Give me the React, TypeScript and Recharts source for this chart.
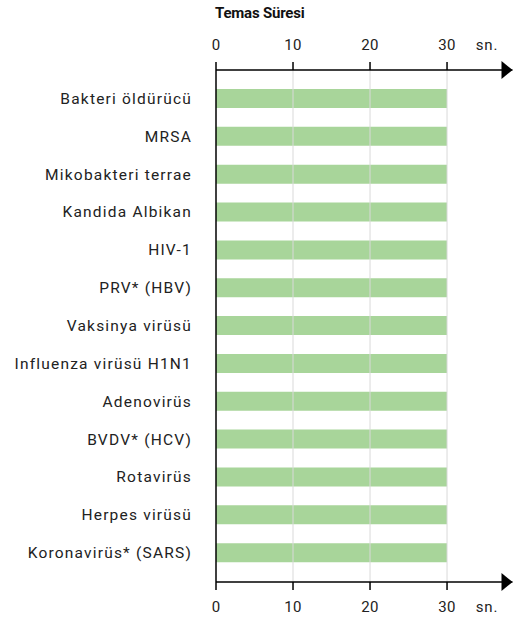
import React from 'react';
import { BarChart, Bar, XAxis, YAxis, ReferenceLine } from 'recharts';

const categories = [
  'Bakteri öldürücü',
  'MRSA',
  'Mikobakteri terrae',
  'Kandida Albikan',
  'HIV-1',
  'PRV* (HBV)',
  'Vaksinya virüsü',
  'Influenza virüsü H1N1',
  'Adenovirüs',
  'BVDV* (HCV)',
  'Rotavirüs',
  'Herpes virüsü',
  'Koronavirüs* (SARS)',
];
const contactSeconds = [30, 30, 30, 30, 30, 30, 30, 30, 30, 30, 30, 30, 30];
const xTicks = [0, 10, 20, 30];
const gridValues = [10, 20, 30];
const axisMax = 38.5;
const unitLabel = 'sn.';
const title = 'Temas Süresi';

const data = categories.map((name, i) => ({ name, value: contactSeconds[i] }));

const FONT = 'Roboto, "Liberation Sans", sans-serif';
const TEXT = '#222';

const makeXTick = (top: boolean) => (props: any) => {
  const { x, y, payload } = props;
  const v = payload.value;
  const dir = top ? -1 : 1;
  if (v === axisMax) {
    return (
      <path d={`M${x - 11},${y - 9} L${x},${y} L${x - 11},${y + 9} Z`} fill="#000" />
    );
  }
  const isLast = v === xTicks[xTicks.length - 1];
  return (
    <g>
      <line x1={x} y1={y} x2={x} y2={y + dir * 8} stroke="#000" strokeWidth={1.5} />
      <text
        x={x}
        y={y + dir * 25}
        textAnchor="middle"
        dominantBaseline="central"
        fontFamily={FONT}
        fontSize={15}
        letterSpacing={0.3}
        fill={TEXT}
      >
        {v}
      </text>
      {isLast && (
        <text
          x={x + 40}
          y={y + dir * 25}
          textAnchor="middle"
          dominantBaseline="central"
          fontFamily={FONT}
          fontSize={15}
          letterSpacing={0.8}
          fill={TEXT}
        >
          {unitLabel}
        </text>
      )}
    </g>
  );
};

const YTick = (props: any) => {
  const { x, y, payload } = props;
  return (
    <text
      x={x}
      y={y}
      textAnchor="end"
      dominantBaseline="central"
      fontFamily={FONT}
      fontSize={15.5}
      letterSpacing={1.2}
      fill={TEXT}
    >
      {payload.value}
    </text>
  );
};

export default function App() {
  return (
    <div style={{ position: 'absolute', left: 0, top: 0, width: 528, height: 622, background: '#fff' }}>
      <div
        style={{
          position: 'absolute',
          left: 215,
          top: 3,
          fontFamily: FONT,
          fontWeight: 700,
          fontSize: 15,
          letterSpacing: -0.2,
          lineHeight: '20px',
          color: '#111',
        }}
      >
        {title}
      </div>
      <BarChart
        width={528}
        height={622}
        data={data}
        layout="vertical"
        margin={{ top: 30, right: 15.5, bottom: 0, left: 0 }}
        barSize={19}
      >
        {gridValues.map((g) => (
          <ReferenceLine key={g} x={g} xAxisId="top" stroke="#d9d9d9" strokeWidth={1} ifOverflow="visible" />
        ))}
        <XAxis
          xAxisId="top"
          orientation="top"
          type="number"
          domain={[0, axisMax]}
          ticks={[...xTicks, axisMax]}
          interval={0}
          height={40}
          tickSize={0}
          tickMargin={0}
          tickLine={false}
          axisLine={{ stroke: '#000', strokeWidth: 1.5 }}
          tick={makeXTick(true)}
          allowDataOverflow
        />
        <XAxis
          xAxisId="bottom"
          orientation="bottom"
          type="number"
          domain={[0, axisMax]}
          ticks={[...xTicks, axisMax]}
          interval={0}
          height={40}
          tickSize={0}
          tickMargin={0}
          tickLine={false}
          axisLine={{ stroke: '#000', strokeWidth: 1.5 }}
          tick={makeXTick(false)}
          allowDataOverflow
        />
        <YAxis
          type="category"
          dataKey="name"
          width={216}
          tickSize={0}
          tickMargin={24}
          tickLine={false}
          axisLine={{ stroke: '#000', strokeWidth: 1.5 }}
          tick={<YTick />}
          interval={0}
          padding={{ top: 10, bottom: 10 }}
        />
        <Bar dataKey="value" xAxisId="top" fill="#a8d59a" isAnimationActive={false} />
      </BarChart>
    </div>
  );
}
